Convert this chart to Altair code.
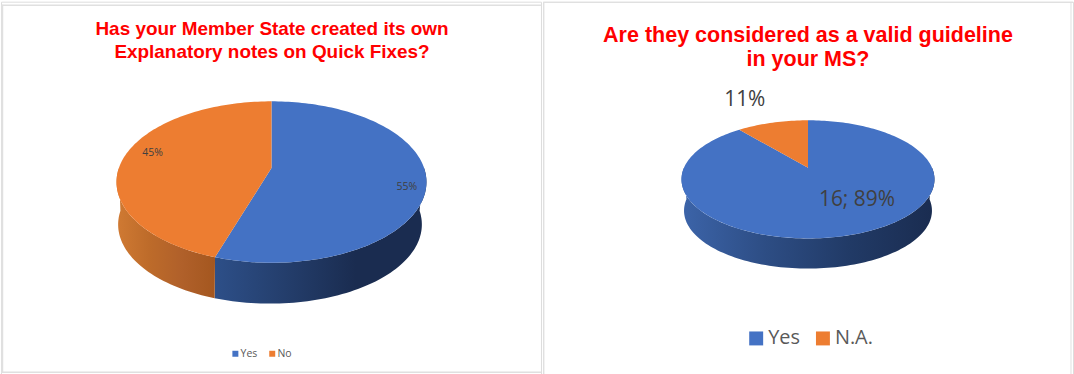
import math
import altair as alt
import pandas as pd

# Survey results shown in the two pies
left_title = ["Has your Member State created its own", "Explanatory notes on Quick Fixes?"]
left_categories = ["Yes", "No"]
left_shares = [55, 45]
left_labels = ["55%", "45%"]

right_title = ["Are they considered as a valid guideline", "in your MS?"]
right_categories = ["Yes", "N.A."]
right_shares = [89, 11]
right_labels = ["16; 89%", "11%"]

BLUE = "#4472c4"
ORANGE = "#ed7d31"
PANEL_H = 374


def project(turn, r, g, drop=0.0, shrink=1.0, shift=0.0):
    """Tilted-disc projection: turn is a clockwise fraction from 12 o'clock."""
    u = r * math.sin(2 * math.pi * turn)
    v = r * math.cos(2 * math.pi * turn)
    w = 1 + g["k"] * v
    x = g["cx"] + shift + shrink * g["A"] * u / w
    y = g["cy"] + drop - shrink * g["B"] * v / w
    return x, y


def sector_rows(start, end, g):
    n = max(2, int((end - start) * 240))
    rows = [(g["cx"], g["cy"])]
    rows += [project(start + (end - start) * i / n, 1, g) for i in range(n + 1)]
    rows.append((g["cx"], g["cy"]))
    return pd.DataFrame([{"x": x, "y": y, "o": i} for i, (x, y) in enumerate(rows)])


def wall_rows(start, end, g):
    # only the near half of the rim is visible
    a, b = max(start, 0.25), min(end, 0.75)
    if b <= a:
        return None
    n = max(2, int((b - a) * 240))
    ts = [a + (b - a) * i / n for i in range(n + 1)]
    top = [project(t, 1, g) for t in ts]
    low = [project(t, 1, g, g["depth"], g["shrink"], g["shift"]) for t in reversed(ts)]
    return pd.DataFrame([{"x": x, "y": y, "o": i} for i, (x, y) in enumerate(top + low)])


def panel(title, cats, shares, labels, g, style):
    width = style["width"]
    sx = alt.Scale(domain=[0, width], range=[0, width])
    sy = alt.Scale(domain=[0, PANEL_H], range=[0, PANEL_H])
    X = alt.X("x:Q", scale=sx, axis=None)
    Y = alt.Y("y:Q", scale=sy, axis=None)
    colors = [BLUE, ORANGE]
    wall_stops = style["wall"]
    layers = []

    # side walls, then the top face of each slice
    t = 0.0
    spans = []
    for c, s, col in zip(cats, shares, colors):
        spans.append((c, t, t + s / 100, col))
        t += s / 100
    for c, a, b, col in spans:
        wd = wall_rows(a, b, g)
        if wd is None:
            continue
        stops = wall_stops[col]
        grad = alt.Gradient(
            gradient="linear", x1=0, x2=1, y1=0, y2=0,
            stops=[alt.GradientStop(offset=i / 3, color=stops[i]) for i in range(4)],
        )
        layers.append(
            alt.Chart(wd).mark_line(fill=grad, strokeWidth=0, stroke="transparent")
            .encode(x=X, y=Y, order="o:Q")
        )
    for c, a, b, col in spans:
        layers.append(
            alt.Chart(sector_rows(a, b, g)).mark_line(fill=col, strokeWidth=0, stroke="transparent")
            .encode(x=X, y=Y, order="o:Q")
        )

    # value labels
    lab = []
    for (c, a, b, col), text, r, dx, dy in zip(spans, labels, style["lab_r"], style["lab_dx"], style["lab_dy"]):
        x, y = project((a + b) / 2, r, g)
        lab.append({"x": x + dx, "y": y + dy, "text": text})
    layers.append(
        alt.Chart(pd.DataFrame(lab))
        .mark_text(font="Open Sans", fontSize=style["lab_size"], color="#404040", align="center", baseline="middle")
        .encode(x=X, y=Y, text="text:N")
    )

    # legend comes from an invisible square layer keyed on the category
    layers.append(
        alt.Chart(pd.DataFrame({"cat": cats, "x": [g["cx"]] * 2, "y": [g["cy"]] * 2}))
        .mark_square(opacity=0)
        .encode(
            x=X, y=Y,
            color=alt.Color(
                "cat:N",
                scale=alt.Scale(domain=cats, range=colors),
                sort=cats,
                legend=alt.Legend(
                    title=None, orient="none", legendX=style["leg_x"], legendY=style["leg_y"],
                    direction="horizontal", columns=2, symbolType="square",
                    symbolSize=style["sym"], symbolOpacity=1, symbolStrokeWidth=0,
                    labelFont="Open Sans", labelFontSize=style["leg_size"], labelColor="#595959",
                    labelOffset=style["leg_off"], columnPadding=style["leg_pad"], padding=0,
                ),
            ),
        )
    )

    # panel frame, clipped so its line width does not grow the layout
    frame = pd.DataFrame(style["frame"])
    layers.append(
        alt.Chart(frame).mark_rule(color="#e0e0e0", clip=True)
        .encode(x=X, x2="x2:Q", y=Y, y2="y2:Q", strokeWidth=alt.StrokeWidth("w:Q", scale=None))
    )

    return alt.layer(*layers).resolve_scale(color="independent").properties(
        width=width, height=PANEL_H,
        title=alt.TitleParams(
            text=title, font="Liberation Sans", fontWeight="bold", fontSize=style["title_size"],
            color="#ff0000", anchor="start", align="center", dx=style["title_x"],
            offset=style["title_off"], lineHeight=24, frame="group",
        ),
    )


left_geo = dict(cx=271.5, cy=167, A=153.2, B=78.6, k=0.173, depth=42.9, shrink=0.98, shift=-1.5)
right_geo = dict(cx=266, cy=166.7, A=124.5, B=57.0, k=0.196, depth=31.7, shrink=0.98, shift=0.0)

left_style = dict(
    width=542, title_size=19, title_x=272, title_off=-61,
    lab_size=10.5, lab_r=[0.87, 0.82], lab_dx=[1, 2], lab_dy=[8, -5],
    leg_x=230, leg_y=348, sym=36, leg_size=10.5, leg_off=0, leg_pad=9,
    wall={
        BLUE: ["#2d4f88", "#243e6c", "#1a2c50", "#1a2c50"],
        ORANGE: ["#d07a33", "#bd6b2a", "#b0602a", "#a4571f"],
    },
    frame=[
        {"x": 0, "x2": 542, "y": 3.5, "y2": 3.5, "w": 1.5},
        {"x": 0, "x2": 542, "y": 372, "y2": 372, "w": 1.5},
        {"x": 1, "x2": 1, "y": 3, "y2": 372, "w": 2.5},
    ],
)
right_style = dict(
    width=532, title_size=21.6, title_x=266, title_off=-69,
    lab_size=21, lab_r=[0.65, 1.2], lab_dx=[18, -22], lab_dy=[-7, -15],
    leg_x=204, leg_y=328, sym=196, leg_size=20, leg_off=2, leg_pad=13,
    wall={
        BLUE: ["#3c64a9", "#2d4d84", "#213a66", "#1a2c50"],
        ORANGE: ["#d07a33", "#bd6b2a", "#b0602a", "#a4571f"],
    },
    frame=[
        {"x": 0, "x2": 532, "y": 0.5, "y2": 0.5, "w": 1.5},
        {"x": 0.2, "x2": 0.2, "y": 0, "y2": 374, "w": 2.5},
        {"x": 530, "x2": 530, "y": 0, "y2": 374, "w": 1},
    ],
)

chart = alt.hconcat(
    panel(left_title, left_categories, left_shares, left_labels, left_geo, left_style),
    panel(right_title, right_categories, right_shares, right_labels, right_geo, right_style),
    spacing=0,
).properties(padding=0).resolve_scale(color="independent").configure_view(stroke=None).configure(background="white")

chart.save("out.html", embed_options={"renderer": "svg", "actions": False})
